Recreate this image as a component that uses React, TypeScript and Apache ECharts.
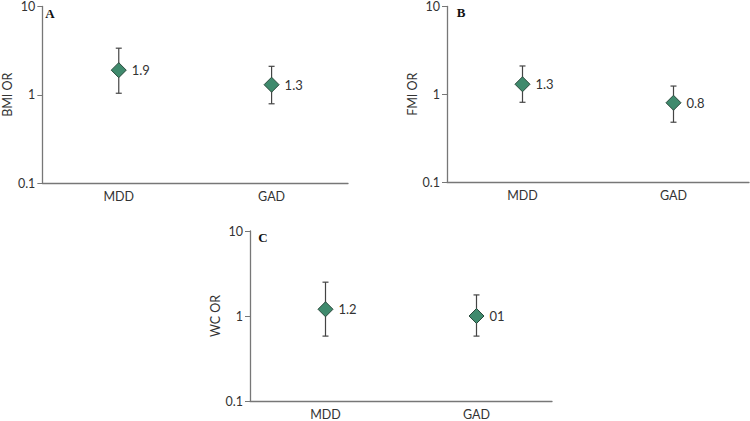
import React, { useEffect, useRef } from "react";
import * as echarts from "echarts";

const categories = ["MDD", "GAD"];
const yTicks = [0.1, 1, 10];

const panelLabels = ["A", "B", "C"];
const axisNames = ["BMI OR", "FMI OR", "WC OR"];

const bmiOR = [1.9, 1.3];
const bmiLow = [1.04, 0.79];
const bmiHigh = [3.37, 2.1];

const fmiOR = [1.3, 0.8];
const fmiLow = [0.81, 0.48];
const fmiHigh = [2.1, 1.24];

const wcOR = [1.2, 1.0];
const wcLow = [0.58, 0.58];
const wcHigh = [2.5, 1.77];

const pointLabels = [
  ["1.9", "1.3"],
  ["1.3", "0.8"],
  ["1.2", "01"],
];

const FONT = "Lato, 'Open Sans', sans-serif";

export default function App() {
  const ref = useRef<HTMLDivElement>(null);
  useEffect(() => {
    if (!ref.current) return;
    const chart = echarts.init(ref.current, undefined, { renderer: "svg" });
    const grids = [
      { left: 36, top: 5, width: 312, height: 178 },
      { left: 447, top: 5, width: 302, height: 177 },
      { left: 250, top: 231, width: 302, height: 173 },
    ];
    const ors = [bmiOR, fmiOR, wcOR];
    const lows = [bmiLow, fmiLow, wcLow];
    const highs = [bmiHigh, fmiHigh, wcHigh];
    const axisColor = "#777";
    const textColor = "#333";

    const xAxis = grids.map((_, i) => ({
      type: "category",
      gridIndex: i,
      data: categories,
      boundaryGap: true,
      axisLine: { lineStyle: { color: axisColor, width: 1.3 } },
      axisTick: { show: false },
      axisLabel: { color: textColor, fontSize: 12.5, fontFamily: FONT, margin: 7 },
    }));
    const yAxis = grids.map((_, i) => ({
      type: "log",
      logBase: 10,
      gridIndex: i,
      min: yTicks[0],
      max: yTicks[yTicks.length - 1],
      name: axisNames[i],
      nameLocation: "middle",
      nameGap: 21,
      nameTextStyle: { color: textColor, fontSize: 12.5, fontFamily: FONT },
      axisLine: { show: true, lineStyle: { color: axisColor, width: 1.3 } },
      axisTick: { show: true, length: 5, lineStyle: { color: axisColor } },
      splitLine: { show: false },
      axisLabel: {
        color: textColor,
        fontSize: 12.5,
        fontFamily: FONT,
        margin: 7,
        formatter: (v: number) => (v < 1 ? v.toFixed(1) : String(Math.round(v))),
      },
    }));

    const series: any[] = [];
    grids.forEach((_, i) => {
      series.push({
        type: "custom",
        xAxisIndex: i,
        yAxisIndex: i,
        silent: true,
        data: categories.map((c, j) => [j, lows[i][j], highs[i][j]]),
        renderItem: (params: any, api: any) => {
          const x = api.value(0);
          const lo = api.coord([x, api.value(1)]);
          const hi = api.coord([x, api.value(2)]);
          const w = 3;
          const style = { stroke: "#444", lineWidth: 1.2 };
          return {
            type: "group",
            children: [
              { type: "line", shape: { x1: lo[0], y1: lo[1], x2: hi[0], y2: hi[1] }, style },
              { type: "line", shape: { x1: lo[0] - w, y1: lo[1], x2: lo[0] + w, y2: lo[1] }, style },
              { type: "line", shape: { x1: hi[0] - w, y1: hi[1], x2: hi[0] + w, y2: hi[1] }, style },
            ],
          };
        },
        z: 2,
      });
      series.push({
        type: "scatter",
        xAxisIndex: i,
        yAxisIndex: i,
        silent: true,
        symbol: "diamond",
        symbolSize: [15, 15],
        itemStyle: { color: "#3f8a6d", borderColor: "#2a4a3c", borderWidth: 1, opacity: 1 },
        data: categories.map((c, j) => ({
          value: [j, ors[i][j]],
          label: {
            show: true,
            position: "right",
            distance: 5,
            formatter: pointLabels[i][j],
            color: textColor,
            fontSize: 13,
            fontFamily: FONT,
          },
        })),
        z: 3,
      });
    });

    const labelPos = [
      [50, 13],
      [461, 12],
      [263, 237],
    ];
    chart.setOption({
      animation: false,
      grid: grids,
      xAxis,
      yAxis,
      series,
      graphic: panelLabels.map((t, i) => ({
        type: "text",
        x: labelPos[i][0],
        y: labelPos[i][1],
        style: {
          text: t,
          fill: "#111",
          font: "bold 13px 'Liberation Serif', serif",
          textAlign: "center",
          textVerticalAlign: "middle",
        },
      })),
    });
    return () => chart.dispose();
  }, []);
  return (
    <div
      ref={ref}
      style={{ position: "fixed", left: 0, top: 0, width: 750, height: 421, background: "#fff" }}
    />
  );
}
